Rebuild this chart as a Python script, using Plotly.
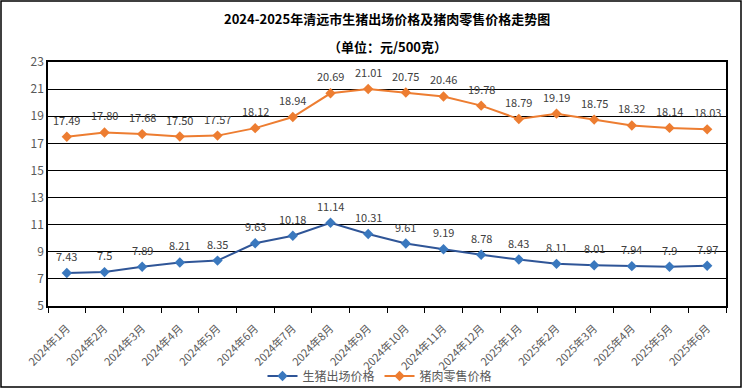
import plotly.graph_objects as go

months = ["2024年1月", "2024年2月", "2024年3月", "2024年4月", "2024年5月", "2024年6月",
          "2024年7月", "2024年8月", "2024年9月", "2024年10月", "2024年11月", "2024年12月",
          "2025年1月", "2025年2月", "2025年3月", "2025年4月", "2025年5月", "2025年6月"]
hog_price = [7.43, 7.5, 7.89, 8.21, 8.35, 9.63, 10.18, 11.14, 10.31, 9.61, 9.19, 8.78,
             8.43, 8.11, 8.01, 7.94, 7.9, 7.97]
hog_labels = ["7.43", "7.5", "7.89", "8.21", "8.35", "9.63", "10.18", "11.14", "10.31", "9.61",
              "9.19", "8.78", "8.43", "8.11", "8.01", "7.94", "7.9", "7.97"]
pork_price = [17.49, 17.80, 17.68, 17.50, 17.57, 18.12, 18.94, 20.69, 21.01, 20.75, 20.46, 19.78,
              18.79, 19.19, 18.75, 18.32, 18.14, 18.03]
pork_labels = ["17.49", "17.80", "17.68", "17.50", "17.57", "18.12", "18.94", "20.69", "21.01",
               "20.75", "20.46", "19.78", "18.79", "19.19", "18.75", "18.32", "18.14", "18.03"]
y_ticks = [5, 7, 9, 11, 13, 15, 17, 19, 21, 23]

W, H = 742, 388
ML, MR, MT, MB = 48, 16, 62, 82
FONT = "Noto Sans CJK SC"
BLUE_LINE = "#2F5597"
BLUE_MARK = "#3A78BE"
ORANGE = "#ED7D31"

fig = go.Figure()
fig.add_trace(go.Scatter(
    x=months, y=hog_price, name="生猪出场价格", mode="lines+markers",
    line=dict(color=BLUE_LINE, width=2),
    marker=dict(symbol="diamond", size=8, color=BLUE_MARK, line=dict(width=0)),
))
fig.add_trace(go.Scatter(
    x=months, y=pork_price, name="猪肉零售价格", mode="lines+markers",
    line=dict(color=ORANGE, width=2),
    marker=dict(symbol="diamond", size=8, color=ORANGE, line=dict(width=0)),
))

annotations = []
for m, v, t in zip(months, hog_price, hog_labels):
    annotations.append(dict(x=m, y=v, text=t, showarrow=False, yshift=17,
                            font=dict(family=FONT, size=11, color="#404040")))
for m, v, t in zip(months, pork_price, pork_labels):
    annotations.append(dict(x=m, y=v, text=t, showarrow=False, yshift=17,
                            font=dict(family=FONT, size=11, color="#404040")))

annotations.append(dict(xref="paper", yref="paper", x=0.5, y=1, yshift=MT - 18,
                        text="<b>2024-2025年清远市生猪出场价格及猪肉零售价格走势图</b>",
                        showarrow=False, xanchor="center", yanchor="middle",
                        font=dict(family=FONT, size=13, color="#000000")))
annotations.append(dict(xref="paper", yref="paper", x=0.5, y=1, yshift=MT - 46,
                        text="<b>（单位：元/500克）</b>",
                        showarrow=False, xanchor="center", yanchor="middle",
                        font=dict(family=FONT, size=13, color="#000000")))

pw = W - ML - MR
ph = H - MT - MB
shapes = [dict(type="rect", xref="paper", yref="paper",
               x0=(-ML + 1) / pw, x1=1 + (MR - 1) / pw,
               y0=-(MB - 1) / ph, y1=1 + (MT - 1) / ph,
               line=dict(color="#000000", width=1.5), fillcolor="rgba(0,0,0,0)")]

fig.update_layout(
    width=W, height=H,
    margin=dict(l=ML, r=MR, t=MT, b=MB, autoexpand=False),
    paper_bgcolor="white", plot_bgcolor="white",
    font=dict(family=FONT, color="#595959"),
    showlegend=True,
    legend=dict(orientation="h", x=(380 - ML) / pw, xanchor="center", y=-(376 - (H - MB)) / ph,
                yanchor="middle", font=dict(family=FONT, size=12, color="#595959"),
                bgcolor="rgba(0,0,0,0)",
                itemwidth=30, entrywidth=0, tracegroupgap=0),
    annotations=annotations,
    shapes=shapes,
)
fig.update_xaxes(
    type="category", range=[-0.5, len(months) - 0.5], automargin=False,
    showline=True, linecolor="#000000", linewidth=1.5, mirror=True,
    ticks="outside", tickson="boundaries", ticklen=5, tickcolor="#000000",
    tickangle=-45, tickfont=dict(family=FONT, size=11, color="#595959"),
    ticklabelstandoff=10,
    showgrid=False,
)
fig.update_yaxes(
    range=[5, 23], tickvals=y_ticks, automargin=False,
    showline=True, linecolor="#000000", linewidth=1.5, mirror=True,
    showgrid=True, gridcolor="#000000", gridwidth=1,
    ticks="", tickfont=dict(family=FONT, size=12, color="#595959"),
    zeroline=False,
)

fig.write_html("out.html", config={"displayModeBar": False},
               post_script="document.body.style.margin='0';")
